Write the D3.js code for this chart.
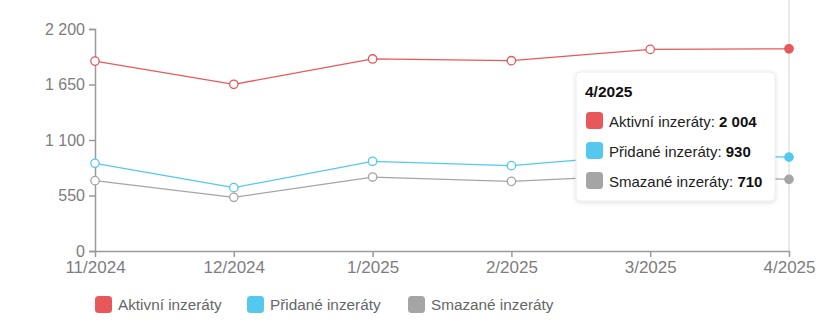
<!DOCTYPE html>
<html>
<head>
<meta charset="utf-8">
<script src="https://cdn.jsdelivr.net/npm/d3@7"></script>
<style>
  html, body { margin: 0; padding: 0; background: #fff; }
  svg { display: block; }
</style>
</head>
<body>
<svg id="chart" width="838" height="335"></svg>
<script>
const categories = ["11/2024", "12/2024", "1/2025", "2/2025", "3/2025", "4/2025"];
const seriesNames = ["Aktivní inzeráty", "Přidané inzeráty", "Smazané inzeráty"];
const seriesColors = ["#e8585a", "#55c8ef", "#a5a5a5"];
const aktivni = [1882, 1652, 1903, 1886, 1998, 2004];
const pridane = [869, 628, 889, 846, 960, 930];
const smazane = [697, 532, 733, 690, 755, 710];
const yTicks = [0, 550, 1100, 1650, 2200];
const hoverIndex = 5;

const series = [aktivni, pridane, smazane].map((v, i) => ({ name: seriesNames[i], color: seriesColors[i], values: v }));

const svg = d3.select("#chart");
const margin = { top: 29, right: 49, bottom: 84, left: 95 };
const W = 838, H = 335;
const x = d3.scalePoint().domain(categories).range([margin.left, W - margin.right]);
const y = d3.scaleLinear().domain([0, 2200]).range([H - margin.bottom, margin.top]);

const fmt = v => d3.format(",")(v).replace(/,/g, " ");
const axisColor = "#9a9a9a";
const labelColor = "#7d7d7d";

// hover line
svg.append("line")
  .attr("x1", x(categories[hoverIndex])).attr("x2", x(categories[hoverIndex]))
  .attr("y1", 0).attr("y2", y(0))
  .attr("stroke", "#d4d4d4").attr("stroke-width", 1);

// y axis
const yAxis = svg.append("g")
  .attr("transform", `translate(${margin.left},0)`)
  .call(d3.axisLeft(y).tickValues(yTicks).tickFormat(fmt).tickSize(6).tickSizeOuter(6));
yAxis.select(".domain").attr("stroke", axisColor).attr("stroke-width", 1.5);
yAxis.selectAll(".tick line").attr("stroke", axisColor).attr("stroke-width", 1.5);
yAxis.selectAll(".tick text")
  .attr("fill", labelColor)
  .attr("font-family", "Liberation Sans, Arial, sans-serif")
  .attr("font-size", 16)
  .attr("x", -10);

// x axis
const xAxis = svg.append("g")
  .attr("transform", `translate(0,${y(0)})`)
  .call(d3.axisBottom(x).tickSize(6).tickSizeOuter(0));
xAxis.select(".domain").attr("stroke", axisColor).attr("stroke-width", 1.5);
xAxis.selectAll(".tick line").attr("stroke", axisColor).attr("stroke-width", 1.5);
xAxis.selectAll(".tick text")
  .attr("fill", labelColor)
  .attr("font-family", "Liberation Sans, Arial, sans-serif")
  .attr("font-size", 17)
  .attr("y", 7)
  .attr("dy", "0.9em");

// lines
const line = d3.line().x((d, i) => x(categories[i])).y(d => y(d));
series.forEach(s => {
  svg.append("path")
    .datum(s.values)
    .attr("fill", "none")
    .attr("stroke", s.color)
    .attr("stroke-width", 1.3)
    .attr("d", line);
  svg.selectAll(null)
    .data(s.values)
    .enter().append("circle")
    .attr("cx", (d, i) => x(categories[i]))
    .attr("cy", d => y(d))
    .attr("r", 4.2)
    .attr("fill", (d, i) => i === hoverIndex ? s.color : "#fff")
    .attr("stroke", s.color)
    .attr("stroke-width", 1.3);
});

// legend
const legendFont = "Liberation Sans, Arial, sans-serif";
const legendX = [95, 247, 408];
const lg = svg.append("g");
series.forEach((s, i) => {
  const g = lg.append("g").attr("transform", `translate(${legendX[i]},296)`);
  g.append("rect").attr("width", 17).attr("height", 17).attr("rx", 3.5).attr("fill", s.color);
  g.append("text").attr("x", 23).attr("y", 14)
    .attr("font-family", legendFont).attr("font-size", 15.3).attr("fill", "#666")
    .text(s.name);
});

// tooltip
const defs = svg.append("defs");
const f = defs.append("filter").attr("id", "shadow").attr("x", "-10%").attr("y", "-10%").attr("width", "120%").attr("height", "130%");
f.append("feDropShadow").attr("dx", 0).attr("dy", 1).attr("stdDeviation", 2).attr("flood-color", "#000").attr("flood-opacity", 0.13);

const tip = svg.append("g").attr("transform", "translate(576,72)");
tip.append("rect").attr("width", 199).attr("height", 129).attr("rx", 4)
  .attr("fill", "#fff").attr("stroke", "#ececec").attr("filter", "url(#shadow)");
tip.append("text").attr("x", 9).attr("y", 25)
  .attr("font-family", legendFont).attr("font-size", 15.5).attr("font-weight", "bold").attr("fill", "#111")
  .text(categories[hoverIndex]);
series.forEach((s, i) => {
  const g = tip.append("g").attr("transform", `translate(10,${40 + i * 30})`);
  g.append("rect").attr("width", 17).attr("height", 17).attr("rx", 3.5).attr("fill", s.color);
  const t = g.append("text").attr("x", 23).attr("y", 15)
    .attr("font-family", legendFont).attr("font-size", 15).attr("fill", "#222");
  t.append("tspan").text(s.name + ": ");
  t.append("tspan").attr("font-weight", "bold").attr("fill", "#111").text(fmt(s.values[hoverIndex]));
});
</script>
</body>
</html>
